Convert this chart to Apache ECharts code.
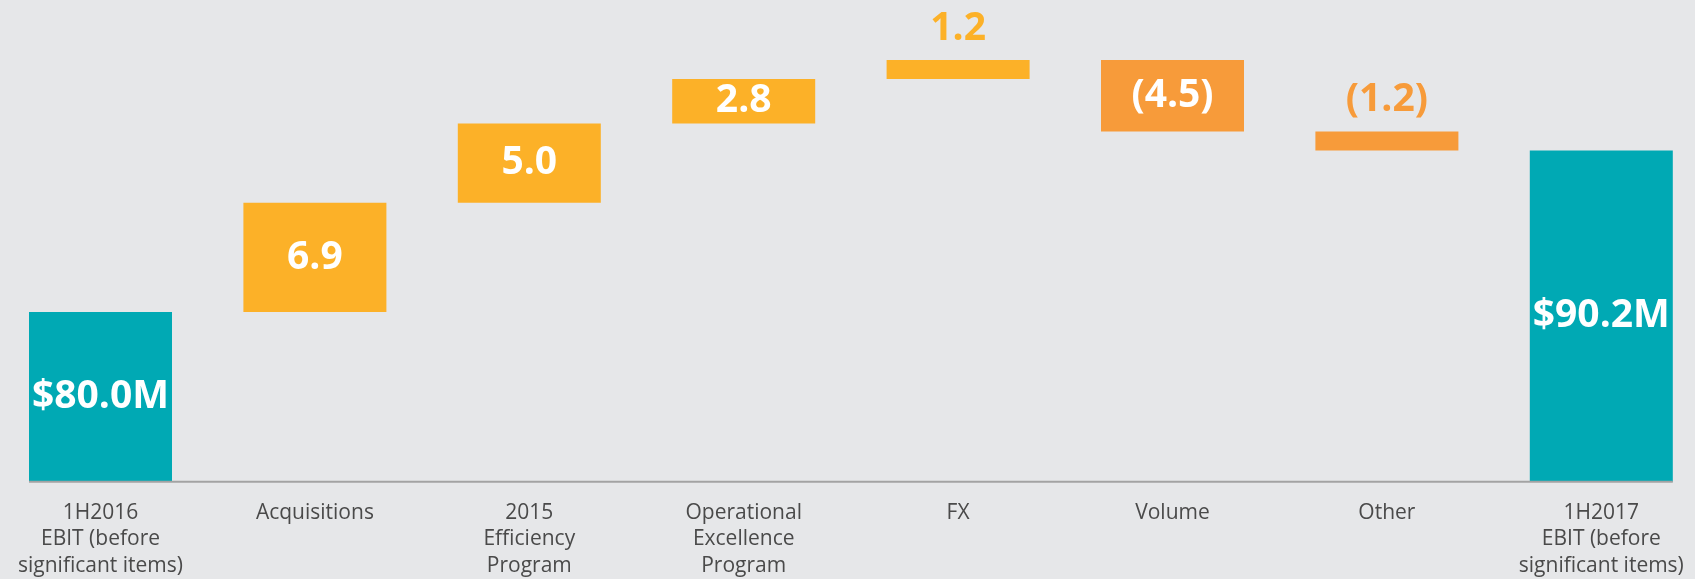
<!DOCTYPE html>
<html><head><meta charset="utf-8">
<script src="https://cdn.jsdelivr.net/npm/echarts@6/dist/echarts.min.js"></script>
<style>html,body{margin:0;padding:0;background:#e6e7e9;} #c{width:1695px;height:579px;}</style>
</head><body><div id="c"></div>
<script>
const categories = ['1H2016\nEBIT (before\nsignificant items)', 'Acquisitions', '2015\nEfficiency\nProgram', 'Operational\nExcellence\nProgram', 'FX', 'Volume', 'Other', '1H2017\nEBIT (before\nsignificant items)'];
const startValue = 80.0;
const changes = [6.9, 5.0, 2.8, 1.2, -4.5, -1.2];
const endValue = 90.2;
const valueLabels = ['$80.0M', '6.9', '5.0', '2.8', '1.2', '(4.5)', '(1.2)', '$90.2M'];

const Y_MIN = 69.3, Y_MAX = 98;
const BAR_W = 143;
const TEAL = '#00a9b4', YELLOW = '#fcb128', ORANGE = '#f79b3a';
const FONT = "'Open Sans', 'Noto Sans', sans-serif";

const base = [0], vis = [startValue], kinds = ['total'];
let run = startValue;
changes.forEach(c => {
  const next = run + c;
  base.push(Math.min(run, next));
  vis.push(Math.abs(c));
  kinds.push(c >= 0 ? 'up' : 'down');
  run = next;
});
base.push(0); vis.push(endValue); kinds.push('total');

const visData = vis.map((v, i) => {
  const color = kinds[i] === 'total' ? TEAL : (kinds[i] === 'up' ? YELLOW : ORANGE);
  const small = kinds[i] !== 'total' && v < 2;
  return {
    value: v,
    itemStyle: { color },
    label: small
      ? { position: 'top', distance: 12, color }
      : { position: 'inside', color: '#ffffff' }
  };
});

const chart = echarts.init(document.getElementById('c'), null, { renderer: 'canvas' });
chart.setOption({
  backgroundColor: '#e6e7e9',
  animation: false,
  grid: { left: -6.7, right: -13.5, top: 26.8, bottom: 97.3, outerBoundsMode: 'none', containLabel: false },
  xAxis: {
    type: 'category',
    data: categories,
    axisLine: { show: false },
    axisTick: { show: false },
    axisLabel: {
      interval: 0, margin: 18, color: '#4a4a4a', fontSize: 21, lineHeight: 26.5,
      fontFamily: FONT, verticalAlign: 'top'
    }
  },
  yAxis: {
    type: 'value', min: Y_MIN, max: Y_MAX,
    show: false, splitLine: { show: false }
  },
  series: [
    {
      type: 'bar', stack: 'w', data: base, barWidth: BAR_W, silent: true,
      itemStyle: { color: 'rgba(0,0,0,0)' }
    },
    {
      type: 'bar', stack: 'w', data: visData, barWidth: BAR_W,
      label: {
        show: true,
        formatter: p => valueLabels[p.dataIndex],
        fontFamily: FONT, fontWeight: 'bold', fontSize: 39,
        textBorderWidth: 0
      }
    },
    {
      type: 'custom', data: [[0, Y_MIN]], encode: { x: 0, y: 1 }, z: 5,
      renderItem: (params, api) => {
        const n = categories.length;
        const p0 = api.coord([0, Y_MIN]);
        const p1 = api.coord([n - 1, Y_MIN]);
        return {
          type: 'line',
          shape: { x1: p0[0] - BAR_W / 2, y1: p0[1], x2: p1[0] + BAR_W / 2, y2: p1[1] },
          style: { stroke: '#a3a3a3', lineWidth: 2 }
        };
      }
    }
  ]
});
</script></body></html>
